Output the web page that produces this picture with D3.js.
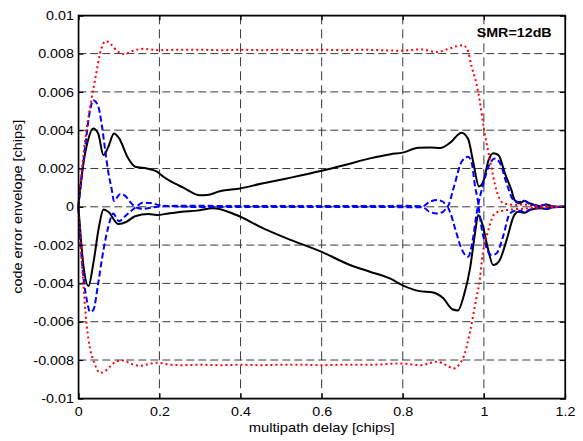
<!DOCTYPE html>
<html lang="en">
<head>
<meta charset="UTF-8">
<title>Code error envelope vs multipath delay</title>
<script src="https://d3js.org/d3.v7.min.js"></script>
<style>
  body { margin: 0; background: #fff; }
  svg { display: block; font-family: Arial, 'Liberation Sans', sans-serif; }
  .axis text { font-size: 13px; fill: #000; }
  .axis path, .axis line { stroke: #000; stroke-width: 1.2px; }
  .grid line { stroke: #3a3a3a; stroke-width: 1px; }
</style>
</head>
<body>
<svg width="583" height="441"></svg>
<script>
// tick values
const xTicks = [0, 0.2, 0.4, 0.6, 0.8, 1, 1.2];
const yTicks = [-0.01, -0.008, -0.006, -0.004, -0.002, 0, 0.002, 0.004, 0.006, 0.008, 0.01];

// red dotted envelope (upper / lower), [delay, error]
const redUpper = [[0,0],[0.0165,0.0034],[0.033,0.00566],[0.045,0.00705],[0.0535,0.0080],[0.068,0.00865],
  [0.08,0.0085],[0.095,0.00815],[0.113,0.00797],[0.135,0.00815],[0.16,0.00825],[0.2,0.00818],[0.25,0.0082],
  [0.3,0.0082],[0.35,0.00818],[0.4,0.0082],[0.45,0.00818],[0.5,0.0082],[0.55,0.00818],[0.6,0.0082],
  [0.65,0.00818],[0.7,0.0082],[0.744,0.00818],[0.793,0.00815],[0.844,0.00822],[0.884,0.00808],
  [0.916,0.00827],[0.948,0.00844],[0.959,0.00822],[0.97,0.0073],[0.982,0.0064],[0.99,0.0055],
  [1.0,0.0041],[1.015,0.00245],[1.031,0.00087],[1.047,0.0002],[1.065,0.00012],[1.08,0.0001],
  [1.1,0.00012],[1.12,0.00005],[1.14,0.00004],[1.16,0.00002],[1.2,0]];
const redLower = [[0,0],[0.01,-0.0033],[0.0207,-0.0062],[0.029,-0.0074],[0.04,-0.00818],[0.0535,-0.00867],
  [0.065,-0.0086],[0.08,-0.0083],[0.095,-0.00806],[0.111,-0.00802],[0.13,-0.0082],[0.152,-0.0083],
  [0.175,-0.0082],[0.193,-0.00814],[0.23,-0.00825],[0.26,-0.00827],[0.3,-0.00825],[0.35,-0.00827],
  [0.4,-0.00825],[0.45,-0.00827],[0.5,-0.00825],[0.55,-0.00825],[0.6,-0.00827],[0.65,-0.00825],
  [0.7,-0.00825],[0.744,-0.00823],[0.793,-0.00818],[0.844,-0.00827],[0.884,-0.00809],[0.905,-0.00825],
  [0.925,-0.00844],[0.941,-0.00818],[0.953,-0.00766],[0.966,-0.0065],[0.982,-0.0047],[0.99,-0.0038],
  [0.995,-0.0028],[1.011,-0.00122],[1.027,-0.00035],[1.047,-0.0002],[1.065,-0.00015],[1.08,-0.00012],
  [1.1,-0.0001],[1.12,-0.00006],[1.14,-0.00004],[1.2,0]];

// black solid envelope
const blackUpper = [[0,0],[0.012,0.00218],[0.023,0.0034],[0.037,0.00409],[0.049,0.00383],[0.062,0.0027],
  [0.074,0.00313],[0.088,0.00383],[0.1,0.0036],[0.123,0.00253],[0.14,0.00209],[0.169,0.002],[0.193,0.00185],
  [0.21,0.00157],[0.226,0.00135],[0.259,0.001],[0.3,0.0006],[0.317,0.00061],[0.349,0.00081],[0.399,0.00096],
  [0.45,0.0012],[0.514,0.00148],[0.6,0.00188],[0.66,0.0022],[0.719,0.00253],[0.77,0.00275],[0.8,0.00283],
  [0.838,0.00308],[0.87,0.0031],[0.892,0.00307],[0.917,0.00335],[0.945,0.00387],[0.961,0.00355],
  [0.974,0.0023],[0.988,0.00106],[0.999,0.00135],[1.011,0.0024],[1.023,0.0028],[1.036,0.0027],
  [1.052,0.00174],[1.068,0.00087],[1.076,0.00035],[1.088,0.00018],[1.1,0.00031],[1.113,0.00018],
  [1.137,0.00004],[1.154,0.00012],[1.17,0.00002],[1.2,0]];
const blackLower = [[0,0],[0.002,-0.0005],[0.012,-0.00296],[0.025,-0.00414],[0.037,-0.00296],[0.051,-0.00104],
  [0.062,-0.00014],[0.074,-0.00026],[0.099,-0.0009],[0.119,-0.00078],[0.14,-0.00049],[0.173,-0.00038],
  [0.193,-0.00043],[0.222,-0.00035],[0.255,-0.00026],[0.292,-0.0002],[0.333,-0.00008],[0.39,-0.00043],
  [0.456,-0.00113],[0.514,-0.00165],[0.6,-0.00235],[0.67,-0.00304],[0.719,-0.00339],[0.768,-0.00374],
  [0.8,-0.0041],[0.838,-0.00439],[0.875,-0.00447],[0.9,-0.00478],[0.922,-0.00535],[0.936,-0.00541],
  [0.951,-0.0046],[0.966,-0.0032],[0.978,-0.0014],[0.986,-0.00043],[0.997,-0.00095],[1.009,-0.0021],
  [1.023,-0.00304],[1.038,-0.00282],[1.056,-0.00174],[1.073,-0.00052],[1.085,-0.00026],[1.1,-0.00031],
  [1.113,-0.00017],[1.137,-0.00008],[1.155,-0.0001],[1.17,-0.00002],[1.2,0]];

// blue dashed envelope
const blueUpper = [[0,0],[0.0165,0.00305],[0.029,0.00505],[0.037,0.00557],[0.049,0.00525],[0.058,0.00427],
  [0.066,0.003],[0.074,0.0018],[0.082,0.00096],[0.088,0.0003],[0.103,0.00066],[0.115,0.00058],[0.13,0.0002],
  [0.145,-0.00005],[0.16,-0.0001],[0.18,-0.00005],[0.2,0.00002],[0.25,0.00005],[0.3,0.00005],[0.4,0.00004],
  [0.5,0.00004],[0.6,0.00004],[0.7,0.00004],[0.8,0.00005],[0.85,0.00003],[0.865,0.00025],[0.885,0.00035],
  [0.9,0.00025],[0.91,0.00002],[0.925,0.00096],[0.945,0.00235],[0.961,0.00261],[0.97,0.0023],
  [0.978,0.0011],[0.986,0.0002],[0.99,-0.0005],[1.003,-0.00191],[1.019,-0.00252],[1.031,-0.00244],
  [1.047,-0.00157],[1.064,-0.00035],[1.079,-0.0002],[1.09,-0.0002],[1.1,-0.0003],[1.113,-0.00015],
  [1.137,-0.00005],[1.155,-0.00012],[1.17,-0.00002],[1.2,0]];
const blueLower = [[0,0],[0.008,-0.00261],[0.021,-0.00487],[0.029,-0.00548],[0.037,-0.00539],[0.049,-0.004],
  [0.062,-0.00226],[0.074,-0.00104],[0.086,-0.00035],[0.1,-0.00075],[0.12,-0.0004],[0.14,-0.00005],
  [0.16,0.00022],[0.18,0.0002],[0.2,0.00008],[0.25,0.00001],[0.3,-0.00001],[0.4,-0.00001],[0.5,-0.00001],
  [0.6,-0.00001],[0.7,-0.00001],[0.8,-0.00002],[0.85,-0.00003],[0.865,-0.00025],[0.885,-0.00035],
  [0.9,-0.00025],[0.91,-0.00002],[0.917,-0.0003],[0.93,-0.0012],[0.945,-0.0022],[0.961,-0.00261],
  [0.972,-0.0018],[0.982,-0.00035],[0.999,0.00122],[1.015,0.00227],[1.027,0.00252],[1.04,0.00227],
  [1.056,0.00122],[1.073,0.00035],[1.085,0.00025],[1.1,0.0003],[1.113,0.00015],[1.137,0.00005],
  [1.155,0.00012],[1.17,0.00002],[1.2,0]];

const margin = {top: 15.3, right: 18, bottom: 42.7, left: 78.3},
      width = 583 - margin.left - margin.right,
      height = 441 - margin.top - margin.bottom;

const svg = d3.select("svg");
const g = svg.append("g").attr("transform", `translate(${margin.left},${margin.top})`);

const x = d3.scaleLinear().domain([0, 1.2]).range([0, width]);
const y = d3.scaleLinear().domain([-0.01, 0.01]).range([height, 0]);

// dashed grid
const grid = g.append("g").attr("class", "grid");
grid.selectAll(".gx").data(xTicks.slice(1, -1)).enter().append("line")
  .attr("x1", d => x(d)).attr("x2", d => x(d))
  .attr("y1", 0).attr("y2", height)
  .attr("stroke-dasharray", "9,5");
grid.selectAll(".gy").data(yTicks.slice(1, -1)).enter().append("line")
  .attr("x1", 0).attr("x2", width)
  .attr("y1", d => y(d)).attr("y2", d => y(d))
  .attr("stroke-dasharray", "8,4");

// curves
const line = d3.line()
  .x(d => x(d[0]))
  .y(d => y(d[1]))
  .curve(d3.curveMonotoneX);

const series = [
  {data: blackUpper, color: "#000", dash: null, w: 2},
  {data: blackLower, color: "#000", dash: null, w: 2},
  {data: blueUpper, color: "#0000ff", dash: "6,3", w: 2},
  {data: blueLower, color: "#0000ff", dash: "6,3", w: 2},
  {data: redUpper, color: "#ff0000", dash: "2,3", w: 2},
  {data: redLower, color: "#ff0000", dash: "2,3", w: 2}
];
g.selectAll(".curve").data(series).enter().append("path")
  .attr("class", "curve")
  .attr("d", d => line(d.data))
  .attr("fill", "none")
  .attr("stroke", d => d.color)
  .attr("stroke-width", d => d.w)
  .attr("stroke-dasharray", d => d.dash);

// axes, ticks pointing inward like matlab
const fmt = d => d3.format("")(d).replace("\u2212", "-");
const xAxis = g.append("g").attr("class", "axis")
  .attr("transform", `translate(0,${height})`)
  .call(d3.axisBottom(x).tickValues(xTicks).tickSize(-5).tickFormat(fmt));
xAxis.selectAll("text").attr("y", 8.5).attr("transform", "scale(1.1,1)");

const yAxis = g.append("g").attr("class", "axis")
  .call(d3.axisLeft(y).tickValues(yTicks).tickSize(-5).tickFormat(fmt));
yAxis.selectAll("text").attr("x", -4).attr("transform", "scale(1.1,1)");

g.append("g").attr("class", "axis")
  .call(d3.axisTop(x).tickValues(xTicks).tickSize(-5).tickFormat(""));
g.append("g").attr("class", "axis")
  .attr("transform", `translate(${width},0)`)
  .call(d3.axisRight(y).tickValues(yTicks).tickSize(-5).tickFormat(""));

g.append("rect")
  .attr("width", width).attr("height", height)
  .attr("fill", "none").attr("stroke", "#000").attr("stroke-width", 1.2);

// labels
svg.append("text")
  .attr("x", margin.left + width / 2).attr("y", 432.3)
  .attr("text-anchor", "middle")
  .attr("font-size", 13)
  .attr("textLength", 146).attr("lengthAdjust", "spacingAndGlyphs")
  .text("multipath delay [chips]");

svg.append("text")
  .attr("transform", `translate(22,${margin.top + height / 2}) rotate(-90)`)
  .attr("text-anchor", "middle")
  .attr("font-size", 13)
  .attr("textLength", 174).attr("lengthAdjust", "spacingAndGlyphs")
  .text("code error envelope [chips]");

svg.append("text")
  .attr("x", 476.7).attr("y", 36.7)
  .attr("font-size", 13).attr("font-weight", "bold")
  .attr("textLength", 75).attr("lengthAdjust", "spacingAndGlyphs")
  .text("SMR=12dB");
</script>
</body>
</html>
